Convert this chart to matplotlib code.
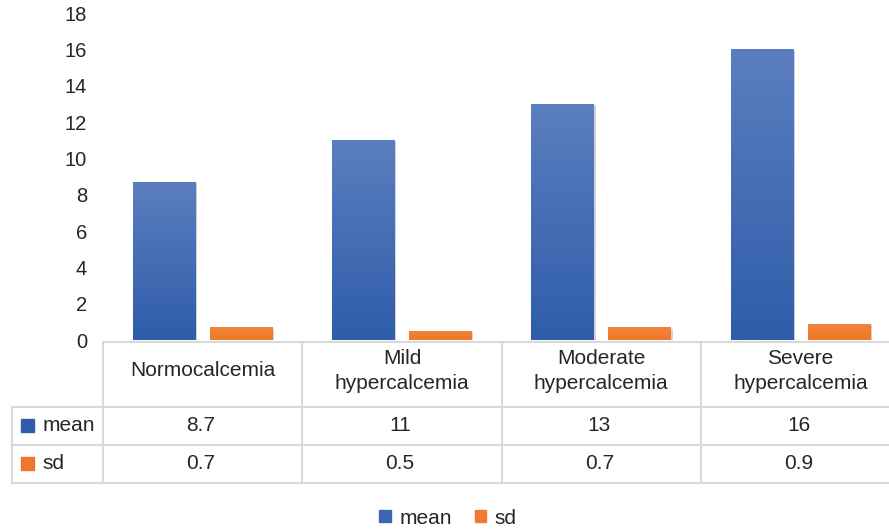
import numpy as np
import matplotlib.pyplot as plt
import matplotlib.patheffects as pe
from matplotlib.colors import LinearSegmentedColormap
from matplotlib.patches import Patch, Rectangle

categories = ["Normocalcemia", "Mild\nhypercalcemia", "Moderate\nhypercalcemia", "Severe\nhypercalcemia"]
mean = [8.7, 11, 13, 16]
sd = [0.7, 0.5, 0.7, 0.9]
series_names = ["mean", "sd"]
yticks = [0, 2, 4, 6, 8, 10, 12, 14, 16, 18]

plt.rcParams["font.family"] = ["Liberation Sans", "DejaVu Sans"]
text_color = "#262626"
grid_color = "#d9d9d9"
blue_top, blue_bot = "#5b7ec0", "#2f5da9"
orange_top, orange_bot = "#f2843a", "#ed7828"

W, H = 889, 529
fig = plt.figure(figsize=(W / 100, H / 100), dpi=100)

# pixel layout of the plot area / data table
col_w = 199.3
x0 = 103
base = 340
top = 13
ax = fig.add_axes([x0 / W, 1 - base / H, 4 * col_w / W, (base - top) / H])

x = np.arange(len(categories)) + 0.5
bw = 0.316
off = 0.193
shadow = [pe.SimplePatchShadow(offset=(1.0, -1.0), shadow_rgbFace="#7f7f7f", alpha=0.35), pe.Normal()]
b1 = ax.bar(x - off, mean, bw, color=blue_bot, path_effects=shadow, zorder=2)
b2 = ax.bar(x + off, sd, bw, color=orange_bot, path_effects=shadow, zorder=2)

# vertical gradient inside each bar
for bars, c_top, c_bot in [(b1, blue_top, blue_bot), (b2, orange_top, orange_bot)]:
    cmap = LinearSegmentedColormap.from_list("g", [c_bot, c_top])
    grad = np.linspace(0, 1, 256).reshape(-1, 1)
    for p in bars:
        bx, by = p.get_x(), p.get_y()
        im = ax.imshow(grad, cmap=cmap, origin="lower", aspect="auto",
                       extent=[bx, bx + p.get_width(), by, by + p.get_height()], zorder=3)
        im.set_clip_path(p)

ax.set_xlim(0, 4)
ax.set_ylim(0, 18)
ax.set_yticks(yticks)
ax.set_xticks([])
ax.tick_params(axis="y", length=0, labelsize=14.5, labelcolor=text_color, pad=11.5)
for s in ax.spines.values():
    s.set_visible(False)

# data table drawn in pixel coordinates
tab = fig.add_axes([0, 0, 1, 1], zorder=-1)
tab.set_xlim(0, W)
tab.set_ylim(H, 0)
tab.axis("off")

row_y = [341.7, 407, 445, 483]
col_x = [x0 + i * col_w for i in range(5)]
lw = 1.5
tab.plot([x0, col_x[-1]], [row_y[0], row_y[0]], color=grid_color, lw=lw)
for ry in row_y[1:]:
    tab.plot([12, col_x[-1]], [ry, ry], color=grid_color, lw=lw)
tab.plot([12, 12], [row_y[1], row_y[3]], color=grid_color, lw=lw)
for cx in col_x:
    tab.plot([cx, cx], [row_y[0], row_y[3]], color=grid_color, lw=lw)

for i, cat in enumerate(categories):
    cx = x0 + (i + 0.5) * col_w
    tab.text(cx, 371, cat, ha="center", va="center", fontsize=15, color=text_color, linespacing=1.42)
    tab.text(cx - 2, 425.5, f"{mean[i]:g}", ha="center", va="center", fontsize=15, color=text_color)
    tab.text(cx - 2, 463.5, f"{sd[i]:g}", ha="center", va="center", fontsize=15, color=text_color)

for name, cy, c in [(series_names[0], 425.5, blue_bot), (series_names[1], 463.5, orange_bot)]:
    tab.add_patch(Rectangle((21, cy - 6.5), 13, 13, color=c))
    tab.text(42.5, cy, name, ha="left", va="center", fontsize=15, color=text_color)

handles = [Patch(color="#3d66b0"), Patch(color="#ef7b2e")]
fig.legend(handles, series_names, loc="center", bbox_to_anchor=(448 / W, 1 - 518 / H),
           ncol=2, frameon=False, fontsize=15, handlelength=0.55, handleheight=0.55,
           handletextpad=0.4, columnspacing=1.1, labelcolor=text_color)

fig.savefig("out.png", dpi=100)
